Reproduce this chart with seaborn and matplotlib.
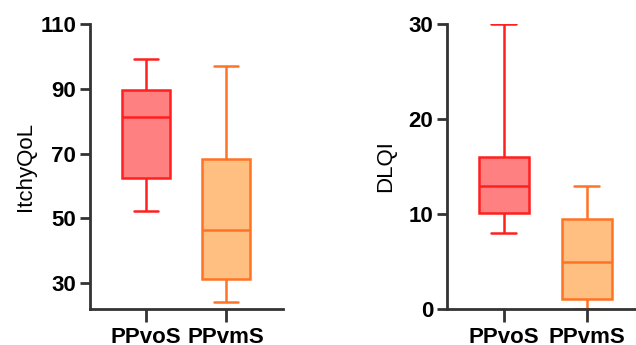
import matplotlib
matplotlib.use("Agg")
import matplotlib.pyplot as plt
import numpy as np
import pandas as pd
import seaborn as sns

sns.set_style("ticks")
plt.rcParams["font.family"] = ["Liberation Sans", "DejaVu Sans"]

groups = ["PPvoS", "PPvmS"]
fills = ["#FF8080", "#FFBF80"]
edges = ["#FF1F1F", "#FF7324"]

# five-number summaries per group: min, Q1, median, Q3, max
itchyqol_ppvos = [52.2, 62.3, 81.2, 89.5, 99.1]
itchyqol_ppvms = [24.3, 31.4, 46.3, 68.4, 97.1]
dlqi_ppvos = [8.0, 10.1, 13.0, 16.0, 30.0]
dlqi_ppvms = [0.0, 1.05, 5.0, 9.45, 13.0]

itchy_ticks = [30, 50, 70, 90, 110]
dlqi_ticks = [0, 10, 20, 30]

fig = plt.figure(figsize=(6.36, 3.45), dpi=100)
ax1 = fig.add_axes([90 / 636, 1 - 309 / 345, 193 / 636, 285 / 345])
ax2 = fig.add_axes([447 / 636, 1 - 309 / 345, 189 / 636, 285 / 345])


def draw(ax, series, ylabel, ticks, ylim, xlim, pad):
    for g, vals, fc, ec in zip(groups, series, fills, edges):
        df = pd.DataFrame({"group": g, "value": vals})
        sns.boxplot(data=df, x="group", y="value", order=groups, ax=ax,
                    color=fc, linecolor=ec, linewidth=1.8, width=0.6,
                    saturation=1, whis=(0, 100), showfliers=False)
    ax.set_ylim(*ylim)
    ax.set_xlim(*xlim)
    ax.set_yticks(ticks)
    ax.set_xlabel("")
    ax.set_ylabel(ylabel, fontsize=16, color="black", labelpad=pad)
    for s in ["top", "right"]:
        ax.spines[s].set_visible(False)
    for s in ["left", "bottom"]:
        ax.spines[s].set_linewidth(2)
        ax.spines[s].set_color("#333333")
    ax.tick_params(axis="both", width=2, color="#333333",
                   labelsize=16, labelcolor="black")
    ax.tick_params(axis="y", length=7, pad=3)
    ax.tick_params(axis="x", length=9, pad=4)
    for lab in ax.get_xticklabels() + ax.get_yticklabels():
        lab.set_fontweight("bold")


draw(ax1, [itchyqol_ppvos, itchyqol_ppvms], "ItchyQoL", itchy_ticks,
     (22, 110), (-0.7, 1.71), 3)
draw(ax2, [dlqi_ppvos, dlqi_ppvms], "DLQI", dlqi_ticks,
     (0, 30), (-0.68, 1.59), 9)

fig.savefig("out.png", dpi=100)
